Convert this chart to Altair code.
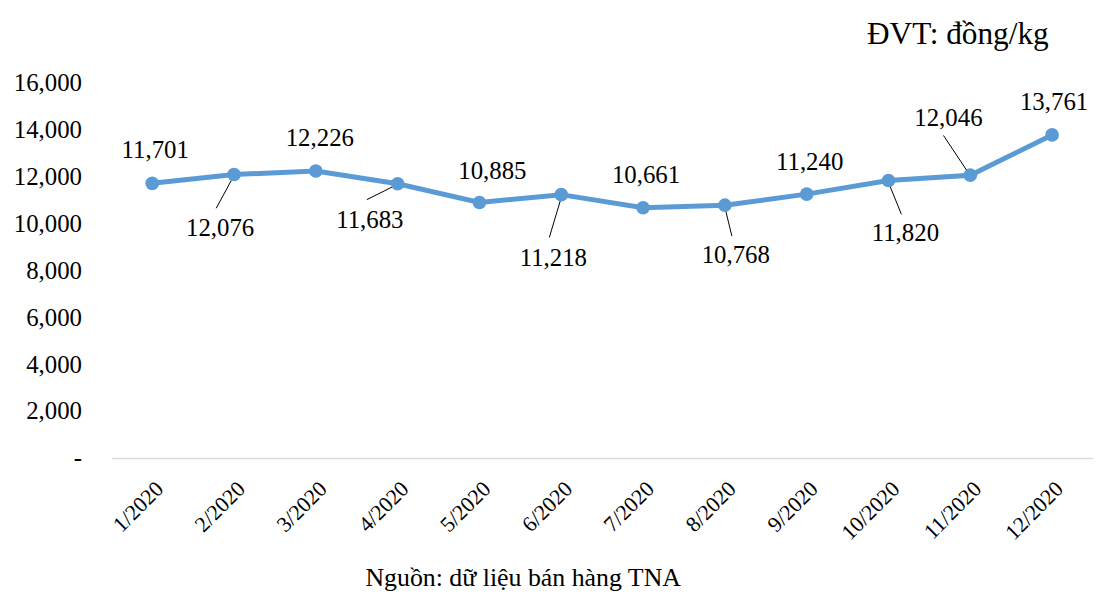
import altair as alt
import pandas as pd

months = ["1/2020", "2/2020", "3/2020", "4/2020", "5/2020", "6/2020",
          "7/2020", "8/2020", "9/2020", "10/2020", "11/2020", "12/2020"]
prices = [11701, 12076, 12226, 11683, 10885, 11218,
          10661, 10768, 11240, 11820, 12046, 13761]

# label placement offsets (pixels, relative to the point; +dy = downwards)
label_dx = [3, -14, 4, -28, 13, -8, 3, 11, 3, 17, -22, 2]
label_dy = [-33, 54, -33, 37, -32, 64, -33, 50, -32, 53, -58, -33]

# leader lines: month index, start offset, end offset (pixels)
leader_idx = [1, 3, 5, 7, 9, 10]
leader_start_dx = [0, -1, 0, 0, 0, -1]
leader_start_dy = [1, 1, 3, 2, 2, -1]
leader_end_dx = [-18, -31, -12, 7, 13, -27]
leader_end_dy = [34, 16, 43, 31, 34, -40]

y_ticks = [0, 2000, 4000, 6000, 8000, 10000, 12000, 14000, 16000]

FONT = "'Liberation Serif', 'Times New Roman', Times, serif"
BLUE = "#5b9bd5"
W, H = 988, 378
Y_MAX = 16000
UNITS_PER_PX = Y_MAX / H

df = pd.DataFrame({"month": months, "price": prices, "dx": label_dx, "dy": label_dy})
df["label"] = df["price"].map(lambda v: f"{v:,}")
df["label_y"] = df["price"] - df["dy"] * UNITS_PER_PX

rows = []
for k, i in enumerate(leader_idx):
    rows.append({"id": k, "order": 0, "month": months[i],
                 "price": prices[i] - leader_start_dy[k] * UNITS_PER_PX, "ox": leader_start_dx[k]})
    rows.append({"id": k, "order": 1, "month": months[i],
                 "price": prices[i] - leader_end_dy[k] * UNITS_PER_PX, "ox": leader_end_dx[k]})
leaders = pd.DataFrame(rows)

x_enc = alt.X("month:N", sort=months,
              scale=alt.Scale(type="point", domain=months, padding=0.5),
              axis=alt.Axis(
                  title="Nguồn: dữ liệu bán hàng TNA",
                  titleFont=FONT, titleFontSize=26, titleFontWeight="normal",
                  titleColor="black", titleX=414, titleY=128,
                  titleAlign="center", titleBaseline="alphabetic",
                  labelAngle=-45, labelFont=FONT, labelFontSize=22,
                  labelColor="black", labelPadding=20,
                  ticks=False, domain=True, domainColor="#d9d9d9",
                  domainWidth=1.5, grid=False))
y_scale = alt.Scale(domain=[0, Y_MAX], nice=False)
y_axis = alt.Axis(
    values=y_ticks,
    labelExpr="datum.value == 0 ? '-\u00a0\u00a0' : format(datum.value, ',')",
    title="ĐVT: đồng/kg",
    titleFont=FONT, titleFontSize=31.5, titleFontWeight="normal",
    titleColor="black", titleAngle=0, titleX=760, titleY=-39,
    titleAlign="left", titleBaseline="alphabetic",
    labelFont=FONT, labelFontSize=25, labelColor="black",
    labelPadding=30, ticks=False, domain=False, grid=False)
y_enc = alt.Y("price:Q", scale=y_scale, axis=y_axis)

base = alt.Chart(df)

line = base.mark_line(color=BLUE, strokeWidth=5).encode(x=x_enc, y=y_enc)
points = base.mark_circle(color=BLUE, opacity=1, size=190).encode(x=x_enc, y=y_enc)
labels = base.mark_text(font=FONT, fontSize=25, color="black",
                        baseline="middle", align="center").encode(
    x=x_enc,
    y=alt.Y("label_y:Q", scale=y_scale, axis=y_axis),
    xOffset=alt.XOffset("dx:Q", scale=None),
    text="label:N")

leader_lines = alt.Chart(leaders).mark_line(color="black", strokeWidth=1).encode(
    x=x_enc,
    y=y_enc,
    xOffset=alt.XOffset("ox:Q", scale=None),
    detail="id:N",
    order="order:Q")

chart = alt.layer(line, leader_lines, points, labels).properties(
    width=W, height=H,
    background="white",
    autosize=alt.AutoSizeParams(type="none"),
    padding={"left": 104, "top": 73, "right": 0, "bottom": 134},
).configure_view(stroke=None)

chart.save("out.html", embed_options={"renderer": "svg", "actions": False})
